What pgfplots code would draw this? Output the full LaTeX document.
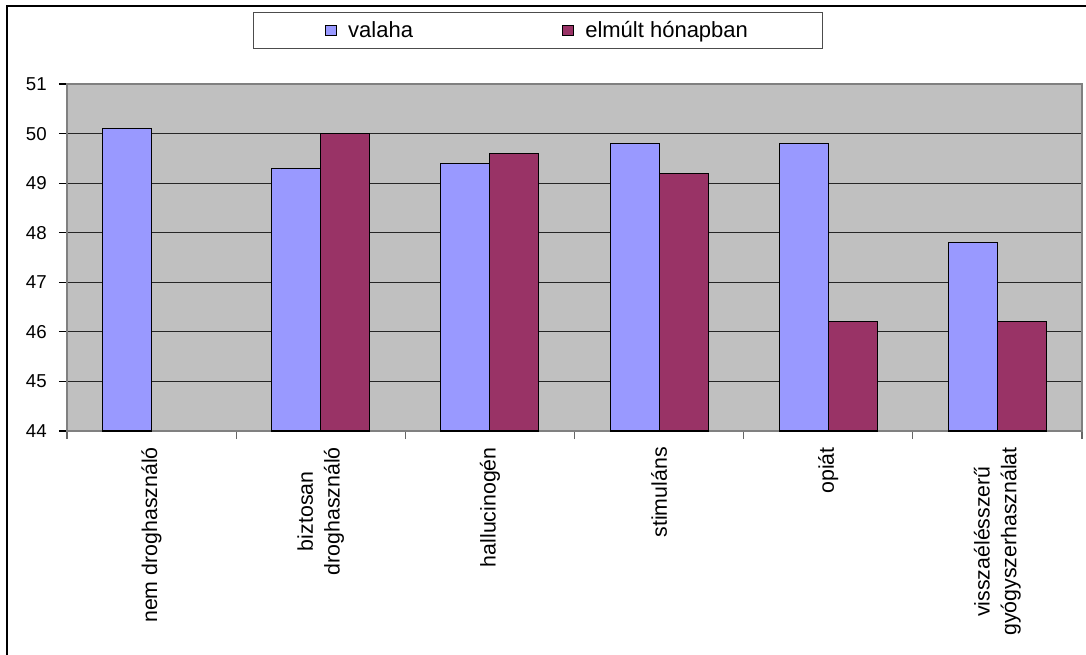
\documentclass[border=0pt]{standalone}
\usepackage{pgfplots}
\pgfplotsset{compat=1.18}
\usepackage{fontspec}
\setmainfont{Liberation Sans}

\definecolor{valaha}{HTML}{9999FF}
\definecolor{honap}{HTML}{993366}
\definecolor{plotbg}{HTML}{C0C0C0}

\begin{document}
\begin{tikzpicture}
% page = 1086 x 654 px, 1 px = 0.75pt, axis box lower left at (0,0)
\useasboundingbox (-50.25pt,-167.25pt) rectangle (764.25pt,323.25pt);
\draw[line width=1.5pt] (-45pt,-175pt) -- (-45pt,318.5pt) -- (780pt,318.5pt);
\begin{axis}[
    at={(0pt,0pt)}, anchor=south west,
    scale only axis,
    width=761.25pt, height=260.25pt,
    ybar=0pt, bar width=36.75pt,
    xmin=-0.5, xmax=5.5,
    ymin=44, ymax=51,
    ytick={44,...,51},
    xtick={-0.5,0.5,...,5.5},
    xticklabels={},
    extra x ticks={0,...,5},
    extra x tick labels={nem droghasználó, biztosan\\droghasználó, hallucinogén, stimuláns, opiát, visszaélésszerű\\gyógyszerhasználat},
    extra x tick style={xtick style={draw=none}},
    xtick pos=bottom, ytick pos=left,
    tick align=outside,
    major tick length=6pt,
    x tick style={draw=black!60, line width=0.8pt},
    y tick style={draw=black, line width=0.8pt},
    ymajorgrids,
    grid style={draw=black!85, line width=0.7pt},
    axis background/.style={fill=plotbg},
    axis line style={draw=black!50, line width=1pt},
    tick label style={font=\fontsize{14}{16.5}\selectfont},
    /pgf/number format/assume math mode=true,
    yticklabel style={inner xsep=0pt, xshift=-9pt},
    xticklabel style={font=\fontsize{16}{20}\selectfont, rotate=90, anchor=east, align=center, inner sep=0pt, xshift=-6pt},
    every axis plot/.append style={draw=black, line width=0.8pt},
    legend columns=2,
    legend image code/.code={\draw[#1, line width=0.7pt] (0pt,-4pt) rectangle (8pt,4pt);},
    legend style={at={(0.464,1.1542)}, anchor=center, draw=black!70, line width=0.8pt,
        fill=white, font=\fontsize{16.5}{19}\selectfont,
        inner xsep=54pt, inner ysep=5pt,
        nodes={inner ysep=2pt},
        /tikz/every odd column/.append style={column sep=6.5pt},
        /tikz/every even column/.append style={column sep=110pt}},
]
\addplot[fill=valaha] coordinates {(0,50.1) (1,49.3) (2,49.4) (3,49.8) (4,49.8) (5,47.8)};
\addplot[fill=honap] coordinates {(1,50.0) (2,49.6) (3,49.2) (4,46.2) (5,46.2)};
\legend{valaha, elmúlt hónapban}
\end{axis}
\end{tikzpicture}
\end{document}
